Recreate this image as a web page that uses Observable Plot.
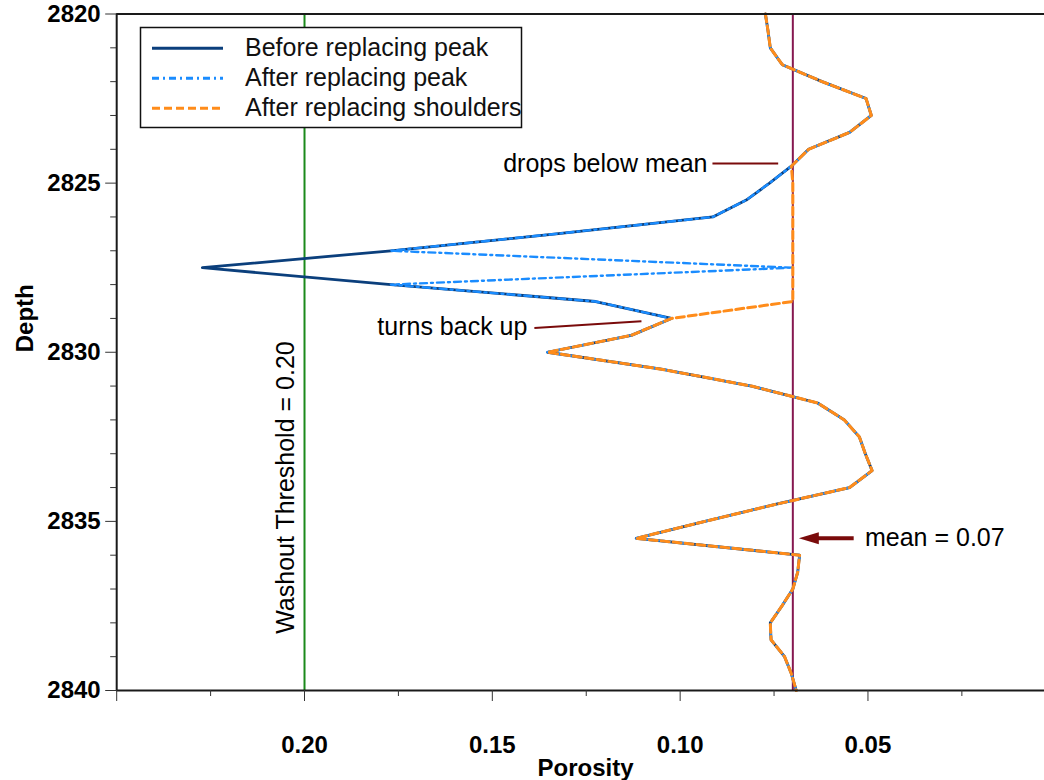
<!DOCTYPE html>
<html><head><meta charset="utf-8">
<script src="https://cdn.jsdelivr.net/npm/d3@7"></script>
<script src="https://cdn.jsdelivr.net/npm/@observablehq/plot@0.6"></script>
<style>html,body{margin:0;padding:0;background:#fff;} #chart{width:1044px;height:780px;}</style>
</head><body><div id="chart"></div>
<script>
// ---- data ----
const depths = [2820,2820.5,2821,2821.5,2822,2822.5,2823,2823.5,2824,2824.5,2825,2825.5,2826,2826.5,2827,2827.5,2828,2828.5,2829,2829.5,2830,2830.5,2831,2831.5,2832,2832.5,2833,2833.5,2834,2834.5,2835,2835.5,2836,2836.5,2837,2837.5,2838,2838.5,2839,2839.5,2840];
const beforePeak = [0.0773,0.0766,0.0760,0.0728,0.0622,0.0505,0.0491,0.0549,0.0658,0.0704,0.0762,0.0824,0.0913,0.1330,0.1770,0.2272,0.1770,0.1225,0.1023,0.1130,0.1353,0.1050,0.0810,0.0634,0.0563,0.0523,0.0507,0.0489,0.0549,0.0747,0.0934,0.1117,0.0682,0.0687,0.0700,0.0729,0.0760,0.0758,0.0722,0.0704,0.0691];
const afterPeak = [0.0773,0.0766,0.0760,0.0728,0.0622,0.0505,0.0491,0.0549,0.0658,0.0704,0.0762,0.0824,0.0913,0.1330,0.1770,0.0700,0.1770,0.1225,0.1023,0.1130,0.1353,0.1050,0.0810,0.0634,0.0563,0.0523,0.0507,0.0489,0.0549,0.0747,0.0934,0.1117,0.0682,0.0687,0.0700,0.0729,0.0760,0.0758,0.0722,0.0704,0.0691];
const afterShoulders = [0.0773,0.0766,0.0760,0.0728,0.0622,0.0505,0.0491,0.0549,0.0658,0.0704,0.0700,0.0700,0.0700,0.0700,0.0700,0.0700,0.0700,0.0700,0.1023,0.1130,0.1353,0.1050,0.0810,0.0634,0.0563,0.0523,0.0507,0.0489,0.0549,0.0747,0.0934,0.1117,0.0682,0.0687,0.0700,0.0729,0.0760,0.0758,0.0722,0.0704,0.0691];
const seriesNames = ["Before replacing peak","After replacing peak","After replacing shoulders"];
const meanPorosity = 0.07;
const washoutThreshold = 0.20;
const xMajorTicks = [0.25,0.20,0.15,0.10,0.05];
const xTickLabels = ["","0.20","0.15","0.10","0.05"];
const xMinorTicks = [0.225,0.175,0.125,0.075,0.025];
const yMajorTicks = [2820,2825,2830,2835,2840];
const yMinorTicks = [2821,2822,2823,2824,2826,2827,2828,2829,2831,2832,2833,2834,2836,2837,2838,2839];
const noteTexts = ["drops below mean","turns back up","mean = 0.07","Washout Threshold = 0.20"];
// annotation anchors in data units (porosity, depth)
const dropNote = {x1:0.0914, x2:0.0739, y:2824.42};
const turnNote = {x1:0.1388, x2:0.1103, y1:2829.28, y2:2829.08};
const meanArrow = {tail:0.0538, neck:0.0645, tip:0.0684, y:2835.5, textX:0.0508};
const washNote = {x:0.205, y:2834.0};

// ---- build tables ----
const values = [beforePeak, afterPeak, afterShoulders];
const rows = values.map((vals, s) => depths.map((d, i) => ({depth:d, porosity:vals[i], series:seriesNames[s]})));
const colors = ["#0b3f7c","#1a8cff","#ff8c1a"];
const dashes = [null,"7,4,2,4","8,4"];
const widths = [2.8,2.4,3];
const labelMap = new Map(xMajorTicks.map((t,i)=>[t,xTickLabels[i]]));
const FONT = "'Liberation Sans', Arial, sans-serif";
const DARKRED = "#7a0b0b";
const NOTE_SIZE = 25;

const triLeft = {draw(ctx, size){ const r = Math.sqrt(size/Math.PI); ctx.moveTo(0,0); ctx.lineTo(2*r,-0.6*r); ctx.lineTo(2*r,0.6*r); ctx.closePath(); }};

const plot = Plot.plot({
  width:1044, height:780,
  marginLeft:116.2, marginRight:0, marginTop:13.5, marginBottom:90,
  style:{fontFamily:FONT, background:"white", color:"black"},
  x:{domain:[0.25,0.003]},
  y:{domain:[2820,2840], reverse:true},
  marks:[
    Plot.ruleX([washoutThreshold], {stroke:"#1b8a1b", strokeWidth:2}),
    Plot.ruleX([meanPorosity], {stroke:"#861850", strokeWidth:2}),
    ...rows.map((r,s) => Plot.line(r, {x:"porosity", y:"depth", stroke:colors[s], strokeWidth:widths[s], strokeDasharray:dashes[s]})),
    Plot.ruleY([2820], {stroke:"#1a1a1a", strokeWidth:2}),
    Plot.ruleY([2840], {stroke:"#1a1a1a", strokeWidth:2}),
    Plot.ruleX([0.25], {stroke:"#1a1a1a", strokeWidth:2}),
    Plot.axisX({ticks:xMajorTicks, tickSize:11, tickPadding:34, tickFormat:d=>labelMap.get(d) ?? "", label:null, fontSize:24, fontWeight:"bold", fontFamily:"'Liberation Sans Narrow', " + FONT, stroke:"#333"}),
    Plot.axisX({ticks:xMinorTicks, tickSize:6, tickFormat:()=>"", label:null, stroke:"#333"}),
    Plot.axisY({ticks:yMajorTicks, tickSize:11, tickPadding:5, tickFormat:d=>String(d), label:null, fontSize:24, fontWeight:"bold", stroke:"#333"}),
    Plot.axisY({ticks:yMinorTicks, tickSize:6, tickFormat:()=>"", label:null, stroke:"#333"}),
    Plot.text(["Porosity"], {frameAnchor:"bottom", dx:5, dy:78, text:d=>d, fontSize:24, fontWeight:"bold", lineAnchor:"middle"}),
    Plot.text(["Depth"], {frameAnchor:"left", dx:-91, rotate:-90, text:d=>d, fontSize:24, fontWeight:"bold", lineAnchor:"middle"}),
    // annotations
    Plot.link([dropNote], {x1:"x1", x2:"x2", y1:"y", y2:"y", stroke:DARKRED, strokeWidth:2}),
    Plot.text([dropNote], {x:"x1", y:"y", text:()=>noteTexts[0], textAnchor:"end", dx:-5, fontSize:NOTE_SIZE, lineAnchor:"middle"}),
    Plot.link([turnNote], {x1:"x1", x2:"x2", y1:"y1", y2:"y2", stroke:DARKRED, strokeWidth:2}),
    Plot.text([turnNote], {x:"x1", y:"y1", text:()=>noteTexts[1], textAnchor:"end", dx:-7, dy:-1, fontSize:NOTE_SIZE, lineAnchor:"middle"}),
    Plot.link([meanArrow], {x1:"tail", x2:"neck", y1:"y", y2:"y", stroke:DARKRED, strokeWidth:4}),
    Plot.dot([meanArrow], {x:"tip", y:"y", symbol:triLeft, r:10, fill:DARKRED, stroke:null}),
    Plot.text([meanArrow], {x:"textX", y:"y", text:()=>noteTexts[2], textAnchor:"start", fontSize:NOTE_SIZE, lineAnchor:"middle"}),
    Plot.text([washNote], {x:"x", y:"y", text:()=>noteTexts[3], rotate:-90, fontSize:NOTE_SIZE, lineAnchor:"middle", textAnchor:"middle"})
  ]
});
document.getElementById("chart").appendChild(plot);

// ---- legend (inside the plot, top-left) ----
const svg = d3.select(plot);
const lg = svg.append("g").attr("font-family", FONT).attr("font-size", NOTE_SIZE).attr("text-anchor","start");
lg.append("rect").attr("x",140.5).attr("y",27.5).attr("width",381).attr("height",100).attr("fill","white").attr("stroke","#111").attr("stroke-width",1.5);
seriesNames.forEach((name, i) => {
  const y = 48.3 + 30*i;
  lg.append("line").attr("x1",152).attr("x2",223).attr("y1",y).attr("y2",y)
    .attr("stroke",colors[i]).attr("stroke-width",3).attr("stroke-dasharray",dashes[i]);
  lg.append("text").attr("x",245).attr("y",y+7.8).attr("fill","#111").text(name);
});
</script></body></html>
